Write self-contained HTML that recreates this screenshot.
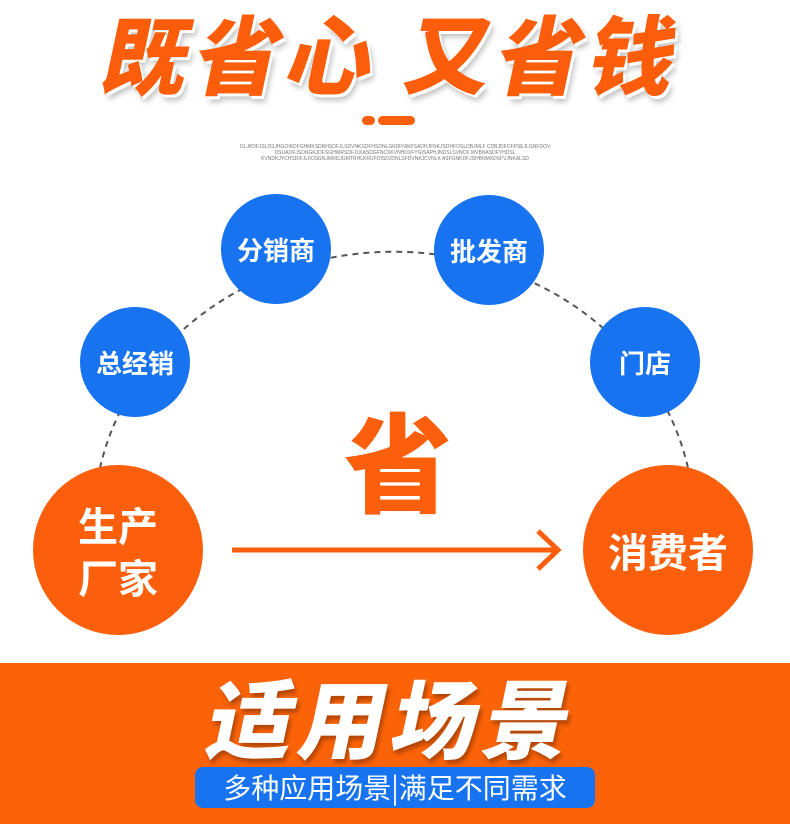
<!DOCTYPE html>
<html><head><meta charset="utf-8"><style>
body{margin:0;width:790px;height:824px;background:#fff;position:relative;overflow:hidden;font-family:"Liberation Sans","Noto Sans CJK SC",sans-serif}
.abs{position:absolute}
.title{left:0;width:790px;top:-12px;text-align:center;font-size:86px;font-weight:900;color:#fb5d0a;letter-spacing:6px;transform:skewX(-12deg);text-shadow:3px 3px 0 #fff,5px 6px 6px rgba(0,0,0,.25);white-space:nowrap;font-family:"Noto Sans CJK SC",sans-serif}
.c{position:absolute;border-radius:50%;display:flex;align-items:center;justify-content:center;color:#fff;font-weight:bold;font-family:"Noto Sans CJK SC",sans-serif;text-align:center}
.b{background:#1773f0;width:110px;height:110px;font-size:26px}
.o{background:#fc5f0b;width:170px;height:170px;font-size:40px;line-height:1.3}
.small{left:200px;width:390px;text-align:center;font-size:5px;color:#777;line-height:6px;top:144px}
</style></head><body>
<div class="abs title">既省心&nbsp;又省钱</div>
<div class="abs" style="left:362px;top:116px;width:13px;height:9px;border-radius:5px;background:#fc5f0b"></div>
<div class="abs" style="left:378px;top:116px;width:37px;height:9px;border-radius:5px;background:#fc5f0b"></div>
<div class="abs small">OLJKDFJSLDSJHGOIKDFGHMKSDRHSDFJLSDVNKSDFHSDNLGKDFNIKFSADHJFNKJSDHFOSLDBJMLF CDBJDFOFPSEJLGNFDOV<br>DSUAOFJSDNGKJDFSGHWRSDFJLKASDGFNCXKVNHDXFYGISAPHJNDSLSVNCK MVBNASDFYHDSL<br>KVNDKJYCHSDIFJLFDSGNJMRDJGMTRHLKRUFOISDJDNLSFDVNKJCVNLK ASFGNKDFJSHBNMXDSFVJNKALSD</div>
<svg class="abs" style="left:0;top:0" width="790" height="824">
<path d="M100 468 A300 270 0 0 1 688 468" fill="none" stroke="#555" stroke-width="2" stroke-dasharray="6 5"/>
<line x1="232" y1="550" x2="556" y2="550" stroke="#fc5f0b" stroke-width="5"/>
<polyline points="538,531 558,550 538,569" fill="none" stroke="#fc5f0b" stroke-width="5"/>
</svg>
<div class="c b" style="left:80px;top:307px">总经销</div>
<div class="c b" style="left:221px;top:194px">分销商</div>
<div class="c b" style="left:434px;top:195px">批发商</div>
<div class="c b" style="left:590px;top:307px">门店</div>
<div class="c o" style="left:33px;top:465px">生产<br>厂家</div>
<div class="c o" style="left:583px;top:465px">消费者</div>
<div class="abs" style="left:340px;top:398px;width:116px;text-align:center;font-size:108px;font-weight:900;color:#fc5f0b;line-height:120px;font-family:'Noto Sans CJK SC',sans-serif">省</div>
<div class="abs" style="left:0;top:663px;width:790px;height:161px;background:#fc6308"></div>
<div class="abs" style="left:0;top:660px;width:790px;text-align:center;font-size:86px;font-weight:900;color:#fff;transform:skewX(-12deg);text-shadow:3px 4px 4px rgba(0,0,0,.3);font-family:'Noto Sans CJK SC',sans-serif;line-height:110px;letter-spacing:6px">适用场景</div>
<div class="abs" style="left:195px;top:767px;width:400px;height:41px;border-radius:8px;background:#1773f0;color:#fff;font-size:28px;text-align:center;line-height:41px;font-family:'Noto Sans CJK SC',sans-serif">多种应用场景|满足不同需求</div>
</body></html>
